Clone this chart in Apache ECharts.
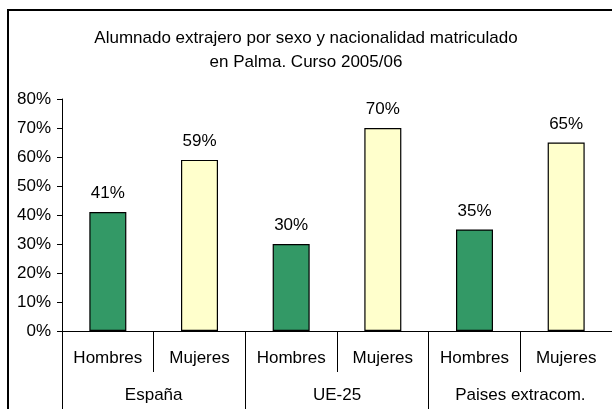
<!DOCTYPE html>
<html>
<head>
<meta charset="utf-8">
<script src="https://cdn.jsdelivr.net/npm/echarts@6/dist/echarts.min.js"></script>
<style>
  html, body { margin: 0; padding: 0; background: #fff; }
  #chart { width: 612px; height: 409px; }
</style>
</head>
<body>
<div id="chart"></div>
<script>
const sexos = ['Hombres', 'Mujeres', 'Hombres', 'Mujeres', 'Hombres', 'Mujeres'];
const grupos = ['España', 'UE-25', 'Paises extracom.'];
const valores = [0.41, 0.59, 0.30, 0.70, 0.35, 0.65];
const colores = ['#339966', '#FFFFCC'];

const fuente = '"Liberation Sans", Arial, sans-serif';
const chart = echarts.init(document.getElementById('chart'));

// etiqueta de porcentaje
const pct = v => Math.round(v * 100) + '%';

const options = {
    backgroundColor: '#fff',
    animation: false,
    title: {
        text: 'Alumnado extrajero por sexo y nacionalidad matriculado\nen Palma. Curso 2005/06',
        left: 'center',
        top: 21,
        padding: [5, 0, 5, 12],
        textStyle: { fontFamily: fuente, fontSize: 17, fontWeight: 'normal', color: '#000', lineHeight: 24 }
    },
    grid: { left: 62, top: 99, width: 560, bottom: 78, containLabel: false },
    xAxis: [
        {
            type: 'category',
            data: sexos,
            position: 'bottom',
            axisLine: { show: true, lineStyle: { color: '#000', width: 1 } },
            axisTick: { show: true, interval: 0, length: 41, lineStyle: { color: '#000', width: 1 } },
            axisLabel: { interval: 0, margin: 19, fontFamily: fuente, fontSize: 17, color: '#000' }
        },
        {
            type: 'category',
            data: grupos,
            position: 'bottom',
            axisLine: { show: false },
            axisTick: { show: true, interval: 0, length: 80, lineStyle: { color: '#000', width: 1 } },
            axisLabel: { interval: 0, margin: 56, fontFamily: fuente, fontSize: 17, color: '#000' }
        }
    ],
    yAxis: {
        type: 'value',
        min: 0,
        max: 0.8,
        interval: 0.1,
        splitLine: { show: false },
        axisLine: { show: true, lineStyle: { color: '#000', width: 1 } },
        axisTick: { show: true, length: 5, lineStyle: { color: '#000' } },
        axisLabel: { formatter: pct, margin: 11, fontFamily: fuente, fontSize: 17, color: '#000' }
    },
    series: [
        {
            type: 'bar',
            xAxisIndex: 0,
            barWidth: 37,
            data: valores.map((v, i) => ({
                value: v,
                itemStyle: { color: colores[i % 2], borderColor: '#000', borderWidth: 1.2 }
            })),
            label: {
                show: true,
                position: 'top',
                distance: 10,
                formatter: p => pct(p.value),
                fontFamily: fuente,
                fontSize: 17,
                color: '#000'
            }
        }
    ],
    graphic: [
        {
            type: 'rect',
            shape: { x: 8, y: 10, width: 700, height: 500 },
            style: { fill: 'none', stroke: '#000', lineWidth: 2 },
            silent: true
        }
    ]
};

chart.setOption(options);
</script>
</body>
</html>
